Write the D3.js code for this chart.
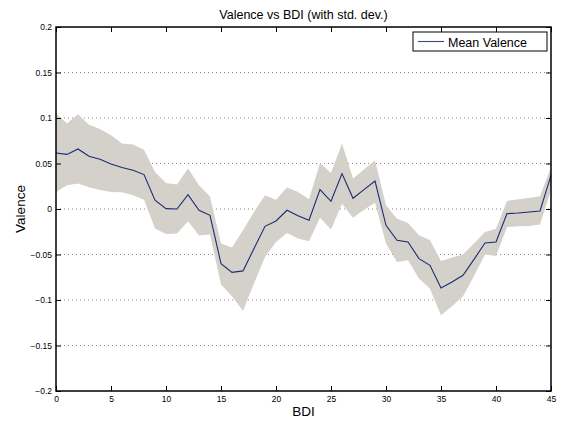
<!DOCTYPE html>
<meta charset="utf-8">
<style>
body { margin: 0; background: #fff; }
text { font-family: "Liberation Sans", Arial, sans-serif; fill: #000; }
.grid line { stroke: #888; stroke-dasharray: 1,3; stroke-width: 1px; }
.band { fill: #d4d1ca; stroke: none; }
.line { fill: none; stroke: #1c2b78; stroke-width: 1.1px; }
</style>
<body>
<script src="https://cdn.jsdelivr.net/npm/d3@7"></script>
<script>
// data
var bdi = d3.range(0, 46);
var meanValence = [0.0615, 0.060, 0.066, 0.058, 0.0546, 0.0495, 0.0455, 0.0425, 0.0378, 0.0096,
                   0.0004, 0.000, 0.0158, -0.0014, -0.0069, -0.060, -0.0696, -0.068, -0.0435, -0.019,
                   -0.0132, -0.0014, -0.0073, -0.0124, 0.0213, 0.0085, 0.0389, 0.0118, 0.0213, 0.0307,
                   -0.0179, -0.0344, -0.0363, -0.0545, -0.0619, -0.0868, -0.0802, -0.0729, -0.0553, -0.0374,
                   -0.0363, -0.0051, -0.0044, -0.0033, -0.0022, 0.037];
var upperBand = [0.105, 0.094, 0.104, 0.0927, 0.088, 0.081, 0.072, 0.0708, 0.065, 0.0407,
                 0.0286, 0.0268, 0.0444, 0.026, 0.0136, -0.038, -0.0424, -0.0234, -0.0033, 0.015,
                 0.0103, 0.0235, 0.0187, 0.0107, 0.0506, 0.0396, 0.0719, 0.0334, 0.0433, 0.0535,
                 0.0041, -0.0106, -0.0154, -0.0289, -0.0344, -0.0571, -0.0534, -0.050, -0.038, -0.0253,
                 -0.0216, 0.0088, 0.0107, 0.0121, 0.014, 0.0462];
var lowerBand = [0.0187, 0.026, 0.028, 0.024, 0.021, 0.0187, 0.0183, 0.015, 0.0103, -0.0215,
                 -0.0275, -0.027, -0.0135, -0.029, -0.028, -0.083, -0.096, -0.112, -0.082, -0.0527,
                 -0.0363, -0.0264, -0.0325, -0.0355, -0.0095, -0.0226, 0.0059, -0.0095, -0.0007, 0.007,
                 -0.038, -0.0582, -0.0564, -0.0765, -0.0875, -0.1168, -0.107, -0.096, -0.0736, -0.050,
                 -0.0516, -0.0198, -0.019, -0.0187, -0.0171, 0.0205];
var xTicks = [0, 5, 10, 15, 20, 25, 30, 35, 40, 45];
var yTicks = [-0.2, -0.15, -0.1, -0.05, 0, 0.05, 0.1, 0.15, 0.2];
var yTickLabels = ["\u22120.2", "\u22120.15", "\u22120.1", "\u22120.05", "0", "0.05", "0.1", "0.15", "0.2"];

var margin = {top: 27, right: 11, bottom: 32, left: 56},
    width = 562 - margin.left - margin.right,
    height = 423 - margin.top - margin.bottom;

var x = d3.scaleLinear().domain([0, 45]).range([0, width]);
var y = d3.scaleLinear().domain([-0.2, 0.2]).range([height, 0]);

var svg = d3.select("body").append("svg")
    .attr("width", 562)
    .attr("height", 423);

var g = svg.append("g")
    .attr("transform", "translate(" + margin.left + "," + margin.top + ")");

// horizontal dotted grid
g.append("g")
    .attr("class", "grid")
  .selectAll("line")
    .data(yTicks.filter(function(d) { return d > -0.2 && d < 0.2; }))
  .enter().append("line")
    .attr("x1", 0)
    .attr("x2", width)
    .attr("y1", function(d) { return y(d); })
    .attr("y2", function(d) { return y(d); });

// std. dev. band
var area = d3.area()
    .x(function(d, i) { return x(bdi[i]); })
    .y0(function(d, i) { return y(lowerBand[i]); })
    .y1(function(d, i) { return y(upperBand[i]); });

g.append("path")
    .datum(bdi)
    .attr("class", "band")
    .attr("d", area);

// mean line
var valueline = d3.line()
    .x(function(d, i) { return x(bdi[i]); })
    .y(function(d) { return y(d); });

g.append("path")
    .datum(meanValence)
    .attr("class", "line")
    .attr("d", valueline);

// axes, MATLAB style: ticks inside on all four sides
function styleAxis(sel) {
  sel.select(".domain").remove();
  sel.selectAll(".tick line").attr("stroke", "#000").attr("stroke-width", 1);
  sel.selectAll(".tick text").style("font-size", "8.5px").attr("fill", "#222");
}

g.append("g")
    .attr("transform", "translate(0," + height + ")")
    .call(d3.axisBottom(x).tickValues(xTicks).tickSizeInner(-5).tickSizeOuter(0).tickPadding(5))
    .call(styleAxis);

g.append("g")
    .call(d3.axisTop(x).tickValues(xTicks).tickSizeInner(-5).tickSizeOuter(0).tickFormat(""))
    .call(styleAxis);

g.append("g")
    .call(d3.axisLeft(y).tickValues(yTicks).tickSizeInner(-5).tickSizeOuter(0).tickPadding(4)
      .tickFormat(function(d, i) { return yTickLabels[i]; }))
    .call(styleAxis);

g.append("g")
    .attr("transform", "translate(" + width + ",0)")
    .call(d3.axisRight(y).tickValues(yTicks).tickSizeInner(-5).tickSizeOuter(0).tickFormat(""))
    .call(styleAxis);

// box
g.append("rect")
    .attr("width", width)
    .attr("height", height)
    .attr("fill", "none")
    .attr("stroke", "#000")
    .attr("stroke-width", 1.5);

// titles
svg.append("text")
    .attr("x", margin.left + width / 2)
    .attr("y", 19)
    .attr("text-anchor", "middle")
    .style("font-size", "12.5px")
    .text("Valence vs BDI (with std. dev.)");

svg.append("text")
    .attr("x", margin.left + width / 2)
    .attr("y", 416)
    .attr("text-anchor", "middle")
    .style("font-size", "13.5px")
    .text("BDI");

svg.append("text")
    .attr("transform", "translate(25," + (margin.top + height / 2) + ") rotate(-90)")
    .attr("text-anchor", "middle")
    .style("font-size", "13.5px")
    .text("Valence");

// legend
var legend = svg.append("g")
    .attr("transform", "translate(413,32)");

legend.append("rect")
    .attr("width", 134)
    .attr("height", 19)
    .attr("fill", "#fff")
    .attr("stroke", "#000")
    .attr("stroke-width", 1);

legend.append("line")
    .attr("x1", 5)
    .attr("x2", 31)
    .attr("y1", 9.5)
    .attr("y2", 9.5)
    .attr("stroke", "#3a4a88")
    .attr("stroke-width", 1.1);

legend.append("text")
    .attr("x", 35)
    .attr("y", 14.5)
    .style("font-size", "12.5px")
    .text("Mean Valence");
</script>
</body>
